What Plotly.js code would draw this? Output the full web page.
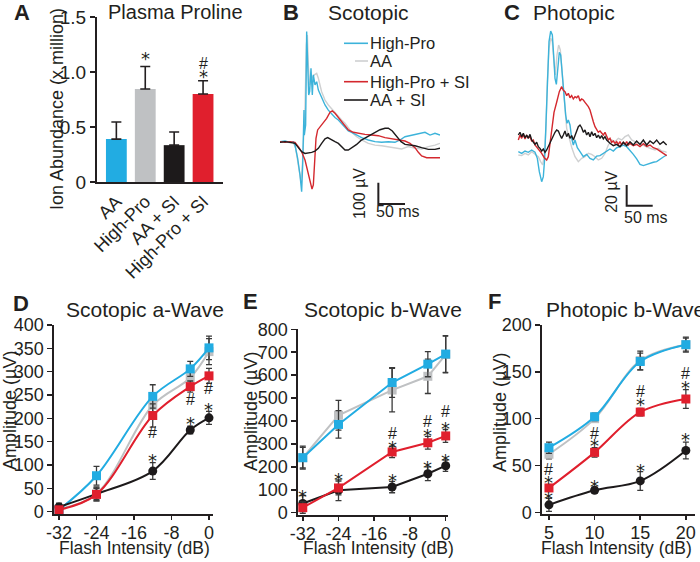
<!DOCTYPE html>
<html><head><meta charset="utf-8">
<script src="https://cdn.plot.ly/plotly-3.0.1.min.js"></script>
<style>html,body{margin:0;padding:0;background:#fff}#chart{width:700px;height:562px}</style>
</head><body><div id="chart"></div>
<script>
// ---------------- DATA ----------------
// Panel A: Plasma proline (x million)
const barCats = ['AA', 'High-Pro', 'AA + SI', 'High-Pro + SI'];
const barVals = [0.39, 0.845, 0.335, 0.80];
const barErr = [0.155, 0.205, 0.12, 0.12];
const barYTicks = [0, 0.5, 1.0, 1.5];
const barYTickText = ['0', '0.5', '1.0', '1.5'];
const barSigX = ['High-Pro', 'High-Pro + SI', 'High-Pro + SI'];
const barSigY = [1.155, 1.08, 0.994];
const barSigT = ['*', '#', '*'];

// Panel B: scotopic ERG traces (ms, µV)
const bHighProT = [0,9.4,18.8,25,28.1,33.1,37.5,40.6,42.5,44.4,45,45.6,48.1,50,51.9,53.8,55.6,58.1,60.6,62.5,65.6,68.8,71.9,78.1,84.4,90.6,96.9,103.1,109.4,115.6,121.9,128.1,134.4,143.8,153.1,165.6,178.1,190.6,203.1,215.6,225,234.4,246.9,259.4,271.9,281.3,290.6,300];
const bHighProV = [0,3,-3,0,-16,-78,-156,-234,-109,78,148,31,78,516,391,219,234,344,219,313,266,281,242,203,172,148,128,113,102,86,70,50,44,31,19,8,0,-3,0,-3,8,23,31,39,44,31,39,31];
const bAAT = [0,9.4,18.8,25,29.4,34.4,39.4,41.9,44.4,46.9,49.4,51.3,53.1,55.6,59.4,64.4,68.8,71.9,78.1,84.4,90.6,96.9,103.1,109.4,115.6,121.9,128.1,134.4,143.8,153.1,165.6,178.1,190.6,203.1,215.6,228.1,240.6,253.1,265.6,278.1,290.6,300];
const bAAV = [-3,0,-5,-3,-31,-109,-188,-109,47,156,453,500,359,266,297,313,320,297,234,195,172,153,138,117,102,86,63,44,23,8,-8,-16,-19,-23,-28,-34,-23,-31,-34,-23,-16,-8];
const bHighProSIT = [0,9.4,18.8,28.1,34.4,40.6,46.9,53.1,56.9,60,62.5,65,67.5,70.6,75,81.3,87.5,93.8,98.1,103.1,109.4,115.6,121.9,128.1,137.5,146.9,159.4,171.9,184.4,196.9,209.4,221.9,234.4,243.8,253.1,259.4,265.6,275,284.4,300];
const bHighProSIV = [0,-3,0,-3,-23,-47,-86,-148,-195,-222,-203,-109,16,55,70,86,109,138,144,133,113,91,70,55,44,39,34,31,28,19,13,8,3,-8,-28,-50,-67,-75,-75,-75];
const bAASIT = [0,9.4,18.8,28.1,34.4,40.6,46.9,53.1,59.4,65.6,71.9,78.1,84.4,89.4,95.6,103.1,109.4,115.6,121.9,128.1,135.6,143.8,151.9,159.4,168.8,178.1,187.5,196.9,203.1,210.6,218.8,226.9,234.4,243.8,253.1,265.6,278.1,290.6,300];
const bAASIV = [-3,0,-3,-8,-28,-47,-55,-53,-50,-44,-31,-8,13,19,9,0,-8,-23,-39,-39,-28,-13,6,16,28,44,56,63,63,50,23,0,-13,-16,-19,-28,-36,-36,-31];
const bScaleBar = {t0: 184.4, v0: -192, dt: 50, dv: 100};

// Panel C: photopic ERG traces (ms, µV)
const cHighProT = [0,6.4,12.8,19.2,25.6,32,36.5,40.3,44.8,48,50.6,53.1,55.7,58.9,62.1,65.3,67.8,70.4,73,75.5,78.7,81.3,84.5,87.7,90.9,93.4,96,99.2,102.4,105.6,108.8,113.3,118.4,124.8,131.2,137.6,144,150.4,156.8,163.2,169.6,176,182.4,188.8,195.2,201.6,208,214.4,220.8,227.2,233.6,240,246.4,252.8,259.2,265.6,272,278.4,284.8];
const cHighProV = [-14.4,-16,-13.8,-15,-12.8,-15,-20.8,-33.6,-43.2,-38.4,-20.8,11.2,59.2,91.2,101.4,97.6,78.4,56,50.2,65.6,81,78.4,62.4,40,20.8,12.8,16,11.2,-1.6,-8,-3.2,-10.6,-14.4,-19.2,-17,-20.8,-22.4,-18.6,-18.2,-16,-14.4,-11.8,-13.8,-10.6,-9.6,-8,-9.6,-12.8,-17,-21.4,-26.6,-27.8,-26.6,-25.3,-24.6,-24,-21.4,-19.5,-17.6];
const cAAT = [0,6.4,12.8,19.2,25.6,32,38.4,42.9,46.7,49.9,53.1,55.7,58.9,62.1,65.3,67.8,71,74.2,77.4,80.6,84.5,88.3,92.8,97.9,103,108.8,115.2,121.6,128,134.4,140.8,147.2,153.6,160,166.4,172.8,179.2,185.6,192,198.4,204.8,211.2,217.6,224,230.4,236.8,243.2,249.6,256,262.4,268.8,275.2,281.6,284.8];
const cAAV = [-17.6,-18.2,-16,-17.6,-14.4,-17,-19.2,-24,-27.2,-17.6,8,52.8,84.8,94.4,91.2,75.2,59.2,78.4,88,83.2,59.2,30.4,8,-1.6,-11.2,-19.2,-24,-20.8,-19.2,-16,-17,-19.2,-22.4,-20.8,-16,-8,-3.2,-4.8,-1.6,-3.2,0,1.6,-3.2,-4.8,-6.4,-8,-9.6,-10.6,-11.8,-12.8,-11.2,-13.8,-14.4,-15];
const cHighProSIT = [0,3.2,6.4,9.6,12.8,16,19.2,22.4,25.6,28.8,32,38.4,44.8,49.9,54.4,57.6,60.8,64.6,68.5,73.6,78.7,83.2,86.4,89.6,92.8,96,99.2,102.4,105.6,108.8,112,115.2,118.4,121.6,124.8,128,131.2,134.4,137.6,140.8,144,147.2,150.4,153.6,156.8,160,163.2,166.4,169.6,172.8,176,179.2,182.4,185.6,188.8,192,195.2,198.4,201.6,204.8,208,211.2,214.4,220.8,227.2,233.6,240,246.4,252.8,259.2,265.6,272,278.4,284.8];
const cHighProSIV = [-3.2,1.6,-1.6,2.2,-2.2,1,-1,0,-4.2,-3.2,-8,-11.8,-16,-20.2,-22.4,-19.2,-6.4,11.2,23.4,33,43.2,48,44.5,43.2,39.4,41.6,37.4,39.4,36.2,38.4,37.4,39.4,34.2,36.2,35.2,33,31,28.8,25.6,19.2,14.4,9.6,6.4,4.2,5.4,3.2,1.6,4.2,0,-3.2,-1.6,-5.4,-4.2,-6.4,-4.8,-7.4,-4.8,-8,-5.4,-7.4,-4.8,-8,-6.4,-8.6,-7.4,-9.6,-6.7,-9.3,-8,-10.6,-11.8,-13.8,-16,-18.2];
const cAASIT = [0,3.2,6.4,9.6,12.8,16,19.2,22.4,25.6,28.8,32,35.2,38.4,41.6,44.8,48,51.2,54.4,57.6,60.8,64,67.2,70.4,73.6,76.8,80,83.2,86.4,89.6,92.8,96,99.2,102.4,105.6,108.8,112,115.2,118.4,121.6,124.8,128,131.2,134.4,137.6,140.8,144,147.2,150.4,153.6,156.8,160,163.2,166.4,169.6,172.8,176,182.4,188.8,195.2,201.6,208,214.4,220.8,227.2,233.6,240,246.4,252.8,259.2,265.6,272,278.4,284.8];
const cAASIV = [1.6,4.2,0,3.2,-1,1.6,-1.6,2.2,-3.2,-4.8,-7.4,-5.4,-9.6,-11.2,-13.8,-11.8,-15,-12.8,-9.6,-5.4,-1.6,0,4.2,6.4,5.4,1.6,-1.6,1.6,5.4,0,3.2,-1.6,1,-3.2,1.6,6.4,9.6,11.2,8.6,4.2,6.4,1.6,4.2,0,4.8,1,3.2,-1,1.6,-1.6,1,-2.2,0,-3.2,-4.8,-6.4,-8.6,-7.4,-9.6,-5.4,-8.6,-4.8,-8,-4.2,-7.4,-3.2,-8,-4.2,-6.7,-3.2,-7.4,-4.8,-8];
const cScaleBar = {t0: 208, v0: -46.4, dt: 50, dv: 20};

// Panel D: scotopic a-wave (µV)
const dX = [-32, -24, -12, -4, 0];
const dHighPro = [4, 77, 247, 306, 351];
const dHighProErr = [6, 20, 25, 16, 25];
const dAA = [6, 38, 228, 287, 343];
const dAAErr = [5, 15, 20, 15, 28];
const dHighProSI = [4, 37, 206, 268, 291];
const dHighProSIErr = [5, 14, 25, 12, 16];
const dAASI = [10, 38, 87, 175, 201];
const dAASIErr = [8, 12, 18, 8, 14];
const dSigX = [-12, -12, -4, -4, 0, 0];
const dSigY = [169, 119, 240, 198, 263, 227];
const dSigT = ['#', '*', '#', '*', '#', '*'];

// Panel E: scotopic b-wave (µV)
const eX = [-32, -24, -12, -4, 0];
const eHighPro = [240, 385, 568, 648, 692];
const eHighProErr = [45, 60, 65, 55, 80];
const eAA = [240, 425, 535, 595, 690];
const eAAErr = [50, 65, 95, 75, 80];
const eHighProSI = [22, 108, 265, 305, 335];
const eHighProSIErr = [25, 30, 25, 28, 28];
const eAASI = [40, 98, 112, 170, 205];
const eAASIErr = [35, 45, 25, 30, 25];
const eSigX = [-32, -24, -12, -12, -12, -4, -4, -4, 0, 0, 0];
const eSigY = [90, 162, 347, 300, 157, 398, 355, 214, 440, 386, 247];
const eSigT = ['*', '*', '#', '*', '*', '#', '*', '*', '#', '*', '*'];

// Panel F: photopic b-wave (µV)
const fX = [5, 10, 15, 20];
const fHighPro = [69, 102, 161, 179];
const fHighProErr = [6, 4, 9, 7];
const fAA = [62, 100, 162, 179];
const fAAErr = [5, 4, 10, 8];
const fHighProSI = [26, 64, 107, 121];
const fHighProSIErr = [3, 5, 4, 10];
const fAASI = [8, 23.5, 33.5, 66];
const fAASIErr = [7, 3, 10, 9];
const fSigX = [5, 5, 5, 10, 10, 10, 15, 15, 15, 20, 20, 20];
const fSigY = [46, 36, 18.5, 84, 75.5, 31.7, 129, 119, 49, 148, 138, 82];
const fSigT = ['#', '*', '*', '#', '*', '*', '#', '*', '*', '#', '*', '*'];

const dbTicks = [-32, -24, -16, -8, 0];
const dbTickText = ['-32', '-24', '-16', '-8', '0'];

// ---------------- STYLE ----------------
const W = 700, H = 562;
const px = x => x / W, py = y => 1 - y / H;
const FONT = 'Liberation Sans, Arial, Helvetica, sans-serif';
const STARFONT = 'DejaVu Sans, Liberation Sans, sans-serif';
const INK = '#231f20';
const COL = {cyan: '#22ace2', gray: '#bfc1c3', red: '#e01f2d', black: '#1d1a1b'};
const TCOL = {cyan: '#3cb3da', gray: '#cfd0d1', red: '#d4282e', black: '#1d1a1b'};

const traces = [];
// A bars
traces.push({type: 'bar', x: barCats, y: barVals, xaxis: 'x', yaxis: 'y',
  width: 0.72, marker: {color: [COL.cyan, COL.gray, COL.black, COL.red], line: {width: 0}},
  error_y: {type: 'data', symmetric: false, array: barErr, arrayminus: barCats.map(() => 0),
    color: INK, thickness: 1.6, width: 5}, hoverinfo: 'skip'});

function wave(t, v, color, ax) {
  traces.push({type: 'scatter', mode: 'lines', x: t, y: v, xaxis: 'x' + ax, yaxis: 'y' + ax,
    line: {color, width: 1.4}, hoverinfo: 'skip'});
}
wave(bAAT, bAAV, TCOL.gray, 2);
wave(bHighProT, bHighProV, TCOL.cyan, 2);
wave(bHighProSIT, bHighProSIV, TCOL.red, 2);
wave(bAASIT, bAASIV, TCOL.black, 2);
wave(cAAT, cAAV, TCOL.gray, 3);
wave(cHighProT, cHighProV, TCOL.cyan, 3);
wave(cHighProSIT, cHighProSIV, TCOL.red, 3);
wave(cAASIT, cAASIV, TCOL.black, 3);

function scaleBar(sb, ax) {
  traces.push({type: 'scatter', mode: 'lines', xaxis: 'x' + ax, yaxis: 'y' + ax, cliponaxis: false,
    x: [sb.t0, sb.t0, sb.t0 + sb.dt], y: [sb.v0, sb.v0 - sb.dv, sb.v0 - sb.dv],
    line: {color: INK, width: 2}, hoverinfo: 'skip'});
}
scaleBar(bScaleBar, 2);
scaleBar(cScaleBar, 3);

function series(x, y, err, color, symbol, ax, shape) {
  traces.push({type: 'scatter', mode: 'lines+markers', x, y, xaxis: 'x' + ax, yaxis: 'y' + ax,
    cliponaxis: false,
    line: {color, width: 2, shape: shape, smoothing: 1},
    marker: {color, size: 9, symbol},
    error_y: {type: 'data', array: err, color: '#3a3a3a', thickness: 1.3, width: 3},
    hoverinfo: 'skip'});
}
series(dX, dAA, dAAErr, COL.gray, 'square', 4, 'spline');
series(dX, dHighPro, dHighProErr, COL.cyan, 'square', 4, 'spline');
series(dX, dAASI, dAASIErr, COL.black, 'circle', 4, 'spline');
series(dX, dHighProSI, dHighProSIErr, COL.red, 'square', 4, 'spline');
series(eX, eAA, eAAErr, COL.gray, 'square', 5, 'linear');
series(eX, eHighPro, eHighProErr, COL.cyan, 'square', 5, 'linear');
series(eX, eAASI, eAASIErr, COL.black, 'circle', 5, 'linear');
series(eX, eHighProSI, eHighProSIErr, COL.red, 'square', 5, 'linear');
series(fX, fAA, fAAErr, COL.gray, 'square', 6, 'spline');
series(fX, fHighPro, fHighProErr, COL.cyan, 'square', 6, 'spline');
series(fX, fAASI, fAASIErr, COL.black, 'circle', 6, 'spline');
series(fX, fHighProSI, fHighProSIErr, COL.red, 'square', 6, 'spline');

// ---------------- LAYOUT ----------------
const ann = [];
function txt(x, y, text, size, opts) {
  ann.push(Object.assign({xref: 'paper', yref: 'paper', x: px(x), y: py(y), text, showarrow: false,
    font: {family: FONT, size, color: INK}, xanchor: 'left', yanchor: 'middle'}, opts || {}));
}
// Panel letters & titles
txt(12, 13, '<b>A</b>', 22); txt(106, 12, 'Plasma Proline', 20);
txt(281, 13, '<b>B</b>', 22); txt(326, 12, 'Scotopic', 21);
txt(502, 13, '<b>C</b>', 22); txt(531, 12, 'Photopic', 21);
txt(11, 303, '<b>D</b>', 22); txt(64, 309, 'Scotopic a-Wave', 21);
txt(241, 301, '<b>E</b>', 22); txt(302, 309, 'Scotopic b-Wave', 21);
txt(486, 301, '<b>F</b>', 22); txt(544, 309, 'Photopic b-Wave', 21);
// Axis titles
txt(57, 109, 'Ion Abundance (x million)', 18, {xanchor: 'center', textangle: -90});
txt(10, 411, 'Amplitude (µV)', 18, {xanchor: 'center', textangle: -90});
txt(251, 412, 'Amplitude (µV)', 18, {xanchor: 'center', textangle: -90});
txt(500, 413, 'Amplitude (µV)', 18, {xanchor: 'center', textangle: -90});
txt(134, 548, 'Flash Intensity (dB)', 17.5, {xanchor: 'center'});
txt(378, 548, 'Flash Intensity (dB)', 17.5, {xanchor: 'center'});
txt(616, 548, 'Flash Intensity (dB)', 17.5, {xanchor: 'center'});
// B legend
const legendItems = [['High-Pro', TCOL.cyan, 43.3, 344], ['AA', TCOL.gray, 61, 355],
  ['High-Pro + SI', TCOL.red, 81.7, 344], ['AA + SI', TCOL.black, 100, 344]];
const shapes = [];
legendItems.forEach(([lab, c, y, x0]) => {
  shapes.push({type: 'line', xref: 'paper', yref: 'paper', x0: px(x0), x1: px(368), y0: py(y), y1: py(y),
    line: {color: c, width: 1.6}});
  txt(368, y, lab, 16.5);
});
// Scale-bar labels
function dataTxt(ax, x, y, text, size, opts) {
  ann.push(Object.assign({xref: 'x' + ax, yref: 'y' + ax, x, y, text, showarrow: false,
    font: {family: FONT, size, color: INK}, xanchor: 'center', yanchor: 'middle'}, opts || {}));
}
dataTxt(2, bScaleBar.t0 - 35, bScaleBar.v0 - bScaleBar.dv / 2, '100 µV', 16, {textangle: -90});
dataTxt(2, bScaleBar.t0 + 36, bScaleBar.v0 - bScaleBar.dv - 36, '50 ms', 16);
dataTxt(3, cScaleBar.t0 - 29, cScaleBar.v0 - cScaleBar.dv / 2 + 3, '20 µV', 16, {textangle: -90});
dataTxt(3, cScaleBar.t0 + 37, cScaleBar.v0 - cScaleBar.dv - 11.5, '50 ms', 16);
// Significance marks
function sig(ax, xs, ys, ts) {
  xs.forEach((x, i) => {
    const star = ts[i] === '*';
    dataTxt(ax, x, ys[i], ts[i], star ? 18 : 16, star
      ? {yshift: -4, font: {family: STARFONT, size: 18, color: INK}} : {});
  });
}
sig('', barSigX, barSigY, barSigT);
sig(4, dSigX, dSigY, dSigT);
sig(5, eSigX, eSigY, eSigT);
sig(6, fSigX, fSigY, fSigT);

function axBase(extra) {
  return Object.assign({showline: true, linecolor: INK, linewidth: 2, showgrid: false, zeroline: false,
    ticks: 'outside', ticklen: 5, tickwidth: 1.5, tickcolor: INK, fixedrange: true,
    tickfont: {family: FONT, size: 18, color: INK}}, extra);
}
const xdb = extra => axBase(Object.assign({ticklen: 4, ticklabelstandoff: -3}, extra));
const hidden = extra => Object.assign({visible: false, showgrid: false, zeroline: false, fixedrange: true}, extra);

const layout = {
  width: W, height: H, margin: {l: 0, r: 0, t: 0, b: 0}, paper_bgcolor: '#fff', plot_bgcolor: 'rgba(0,0,0,0)',
  showlegend: false, font: {family: FONT, color: INK},
  xaxis: axBase({domain: [px(97), px(223)], range: [-0.67, 3.69], type: 'category', ticks: '',
    tickangle: -45, anchor: 'y', tickfont: {family: FONT, size: 18, color: INK}}),
  yaxis: axBase({domain: [py(182), py(17)], range: [0, 1.5], tickvals: barYTicks, ticktext: barYTickText,
    anchor: 'x', tickfont: {family: FONT, size: 19, color: INK}}),
  xaxis2: hidden({domain: [px(275), px(440)], range: [-9.375, 300], anchor: 'y2'}),
  yaxis2: hidden({domain: [py(230), py(25)], range: [-414, 546.9], anchor: 'x2'}),
  xaxis3: hidden({domain: [px(510), px(685)], range: [-16, 320], anchor: 'y3'}),
  yaxis3: hidden({domain: [py(225), py(25)], range: [-84.8, 107.2], anchor: 'x3'}),
  xaxis4: xdb({domain: [px(54.3), px(213.3)], range: [-33, 0.92], tickvals: dbTicks, ticktext: dbTickText, anchor: 'y4'}),
  yaxis4: axBase({domain: [py(514), py(325)], range: [-5, 400], tickvals: [0,50,100,150,200,250,300,350,400], anchor: 'x4'}),
  xaxis5: xdb({domain: [px(298.3), px(448.3)], range: [-33, 0.58], tickvals: dbTicks, ticktext: dbTickText, anchor: 'y5'}),
  yaxis5: axBase({domain: [py(515), py(329.3)], range: [-10, 800], tickvals: [0,100,200,300,400,500,600,700,800], anchor: 'x5'}),
  xaxis6: xdb({domain: [px(542.3), px(695)], range: [4.27, 21], tickvals: fX, anchor: 'y6'}),
  yaxis6: axBase({domain: [py(514), py(325)], range: [-1.8, 200], tickvals: [0,50,100,150,200], anchor: 'x6'}),
  annotations: ann, shapes
};

Plotly.newPlot('chart', traces, layout, {staticPlot: true, displayModeBar: false});
</script>
</body></html>
